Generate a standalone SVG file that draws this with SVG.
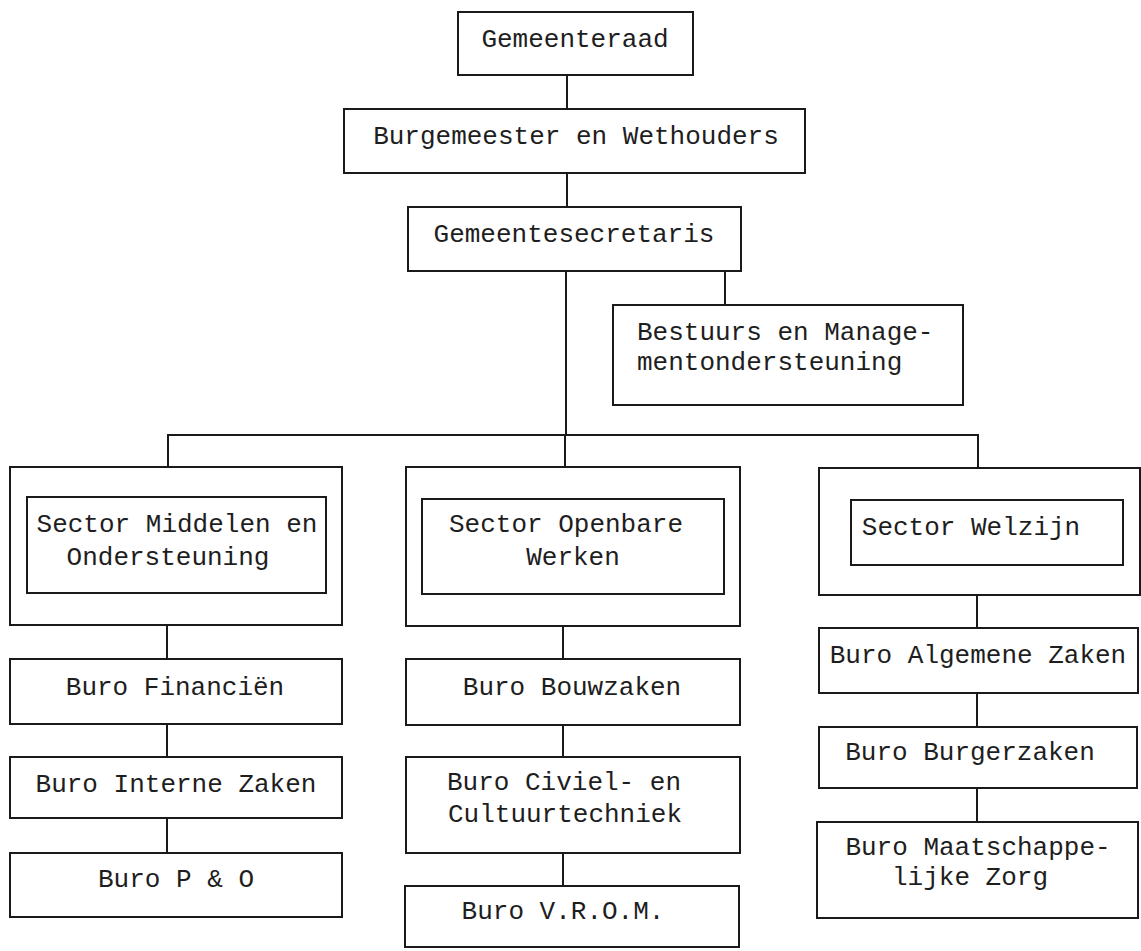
<svg xmlns="http://www.w3.org/2000/svg" width="1141" height="951" viewBox="0 0 1141 951">
<style>
.box{fill:none;stroke:#1a1a1a;stroke-width:2}
.ln{fill:none;stroke:#1a1a1a;stroke-width:2}
text{font-family:"Liberation Mono","DejaVu Sans Mono",monospace;font-size:26px;fill:#1e1e1e;text-anchor:middle}
.s{text-anchor:start}
</style>
<rect width="1141" height="951" fill="#ffffff"/>
<g id="connectors">
<line class="ln" x1="567" y1="75" x2="567" y2="109"/>
<line class="ln" x1="567" y1="173" x2="567" y2="207"/>
<line class="ln" x1="566" y1="271" x2="566" y2="435"/>
<line class="ln" x1="725" y1="271" x2="725" y2="305"/>
<line class="ln" x1="167" y1="435" x2="979" y2="435"/>
<line class="ln" x1="168" y1="435" x2="168" y2="467"/>
<line class="ln" x1="565" y1="435" x2="565" y2="467"/>
<line class="ln" x1="978" y1="434" x2="978" y2="468"/>
<line class="ln" x1="167" y1="625" x2="167" y2="659"/>
<line class="ln" x1="167" y1="724" x2="167" y2="757"/>
<line class="ln" x1="167" y1="818" x2="167" y2="853"/>
<line class="ln" x1="563" y1="626" x2="563" y2="659"/>
<line class="ln" x1="563" y1="725" x2="563" y2="757"/>
<line class="ln" x1="563" y1="853" x2="563" y2="886"/>
<line class="ln" x1="977" y1="595" x2="977" y2="628"/>
<line class="ln" x1="977" y1="693" x2="977" y2="727"/>
<line class="ln" x1="977" y1="788" x2="977" y2="822"/>
</g>
<g id="gemeenteraad">
<rect class="box" x="458" y="12" width="235" height="63"/>
<text x="575" y="47">Gemeenteraad</text>
</g>
<g id="burgemeester">
<rect class="box" x="344" y="109" width="461" height="64"/>
<text x="576" y="144">Burgemeester en Wethouders</text>
</g>
<g id="secretaris">
<rect class="box" x="408" y="207" width="333" height="64"/>
<text x="574" y="242">Gemeentesecretaris</text>
</g>
<g id="bestuurs">
<rect class="box" x="613" y="305" width="350" height="100"/>
<text class="s" x="637" y="340">Bestuurs en Manage-</text>
<text class="s" x="637" y="370">mentondersteuning</text>
</g>
<g id="sector-middelen">
<rect class="box" x="10" y="467" width="332" height="158"/>
<rect class="box" x="27" y="497" width="299" height="96"/>
<text x="177" y="532">Sector Middelen en</text>
<text x="168" y="565">Ondersteuning</text>
</g>
<g id="buro-financien">
<rect class="box" x="10" y="659" width="332" height="65"/>
<text x="175" y="695">Buro Financiën</text>
</g>
<g id="buro-interne">
<rect class="box" x="10" y="757" width="332" height="61"/>
<text x="176" y="792">Buro Interne Zaken</text>
</g>
<g id="buro-po">
<rect class="box" x="10" y="853" width="332" height="64"/>
<text x="176" y="887">Buro P &amp; O</text>
</g>
<g id="sector-openbare">
<rect class="box" x="406" y="467" width="334" height="159"/>
<rect class="box" x="422" y="499" width="302" height="95"/>
<text x="566" y="532">Sector Openbare</text>
<text x="573" y="565">Werken</text>
</g>
<g id="buro-bouwzaken">
<rect class="box" x="406" y="659" width="334" height="66"/>
<text x="572" y="695">Buro Bouwzaken</text>
</g>
<g id="buro-civiel">
<rect class="box" x="406" y="757" width="334" height="96"/>
<text x="564" y="790">Buro Civiel- en</text>
<text x="565" y="822">Cultuurtechniek</text>
</g>
<g id="buro-vrom">
<rect class="box" x="405" y="886" width="334" height="61"/>
<text x="563" y="919">Buro V.R.O.M.</text>
</g>
<g id="sector-welzijn">
<rect class="box" x="819" y="468" width="321" height="127"/>
<rect class="box" x="851" y="500" width="272" height="65"/>
<text x="971" y="535">Sector Welzijn</text>
</g>
<g id="buro-algemene">
<rect class="box" x="819" y="628" width="319" height="65"/>
<text x="978" y="663">Buro Algemene Zaken</text>
</g>
<g id="buro-burgerzaken">
<rect class="box" x="819" y="727" width="318" height="61"/>
<text x="970" y="760">Buro Burgerzaken</text>
</g>
<g id="buro-maatschappelijke">
<rect class="box" x="817" y="822" width="321" height="96"/>
<text x="978" y="855">Buro Maatschappe-</text>
<text x="970" y="885">lijke Zorg</text>
</g>
</svg>
